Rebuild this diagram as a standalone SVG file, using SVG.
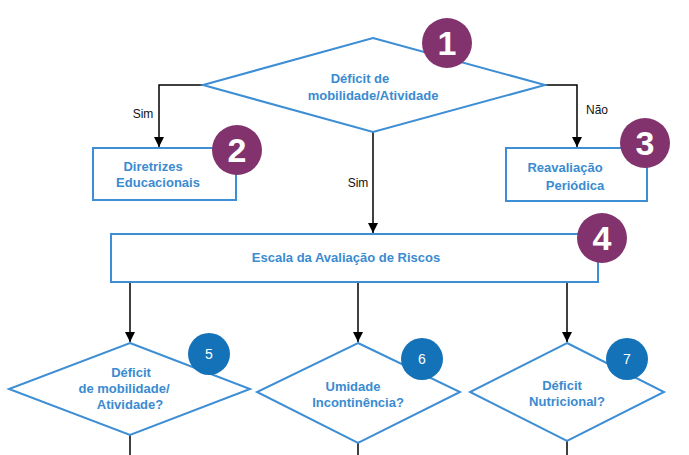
<svg xmlns="http://www.w3.org/2000/svg" width="689" height="455" viewBox="0 0 689 455">
<defs>
<style>
.shape{fill:#fff;stroke:#3d8ed4;stroke-width:2}
.t{font-family:"Liberation Sans",Arial,sans-serif;font-weight:bold;font-size:13px;fill:#3a8bd0;text-anchor:middle}
.lbl{font-family:"Liberation Sans",Arial,sans-serif;font-size:12px;fill:#111;text-anchor:middle}
.bp{fill:#82336e}
.bb{fill:#1473b8}
.bn{font-family:"Liberation Sans",Arial,sans-serif;font-weight:bold;font-size:34px;fill:#fff;text-anchor:middle}
.sn{font-family:"Liberation Sans",Arial,sans-serif;font-size:14px;fill:#fff;text-anchor:middle}
.c{fill:none;stroke:#000;stroke-width:1.5}
</style>
<marker id="ah" viewBox="0 0 10 10" refX="10" refY="5" markerWidth="10" markerHeight="10" markerUnits="userSpaceOnUse" orient="auto"><path d="M0,0 L10,5 L0,10 z" fill="#000"/></marker>
</defs>
<rect width="689" height="455" fill="#fff"/>
<g id="connectors">
<path class="c" d="M203,85 H159 V147" marker-end="url(#ah)"/>
<path class="c" d="M545,85 H577 V147" marker-end="url(#ah)"/>
<path class="c" d="M373,132 V233" marker-end="url(#ah)"/>
<path class="c" d="M130,282 V342" marker-end="url(#ah)"/>
<path class="c" d="M358,282 V342" marker-end="url(#ah)"/>
<path class="c" d="M567,282 V342" marker-end="url(#ah)"/>
<path class="c" d="M130,435 V455"/>
<path class="c" d="M358,443 V455"/>
<path class="c" d="M567,441 V455"/>
<text class="lbl" x="143" y="118">Sim</text>
<text class="lbl" x="358" y="187">Sim</text>
<text class="lbl" x="597" y="114">Não</text>
</g>
<g id="node1">
<polygon class="shape" points="373,38 545,85 373,132 203,85"/>
<text class="t" x="360" y="83">Déficit de</text>
<text class="t" x="373" y="100">mobilidade/Atividade</text>
<circle class="bp" cx="447" cy="43" r="25"/>
<text class="bn" x="447" y="55">1</text>
</g>
<g id="node2">
<rect class="shape" x="93" y="148" width="143" height="52"/>
<text class="t" x="153" y="171">Diretrizes</text>
<text class="t" x="158" y="187">Educacionais</text>
<circle class="bp" cx="237" cy="150" r="25"/>
<text class="bn" x="237" y="162">2</text>
</g>
<g id="node3">
<rect class="shape" x="506" y="148" width="141" height="53"/>
<text class="t" x="565" y="172">Reavaliação</text>
<text class="t" x="575" y="190">Periódica</text>
<circle class="bp" cx="645" cy="143" r="25"/>
<text class="bn" x="645" y="155">3</text>
</g>
<g id="node4">
<rect class="shape" x="111" y="234" width="487" height="48"/>
<text class="t" x="346" y="262">Escala da Avaliação de Riscos</text>
<circle class="bp" cx="602" cy="238" r="25"/>
<text class="bn" x="602" y="250">4</text>
</g>
<g id="node5">
<polygon class="shape" points="130,343 250,389 130,435 9,389"/>
<text class="t" x="131" y="377">Déficit</text>
<text class="t" x="124" y="393">de mobilidade/</text>
<text class="t" x="130" y="409">Atividade?</text>
<circle class="bb" cx="209" cy="354" r="21"/>
<text class="sn" x="209" y="359">5</text>
</g>
<g id="node6">
<polygon class="shape" points="358,343 460,392 358,443 257,392"/>
<text class="t" x="353" y="391">Umidade</text>
<text class="t" x="358" y="407">Incontinência?</text>
<circle class="bb" cx="422" cy="359" r="21"/>
<text class="sn" x="422" y="364">6</text>
</g>
<g id="node7">
<polygon class="shape" points="567,343 664,392 567,441 470,392"/>
<text class="t" x="562" y="390">Déficit</text>
<text class="t" x="567" y="406">Nutricional?</text>
<circle class="bb" cx="627" cy="359" r="21"/>
<text class="sn" x="627" y="364">7</text>
</g>
</svg>
